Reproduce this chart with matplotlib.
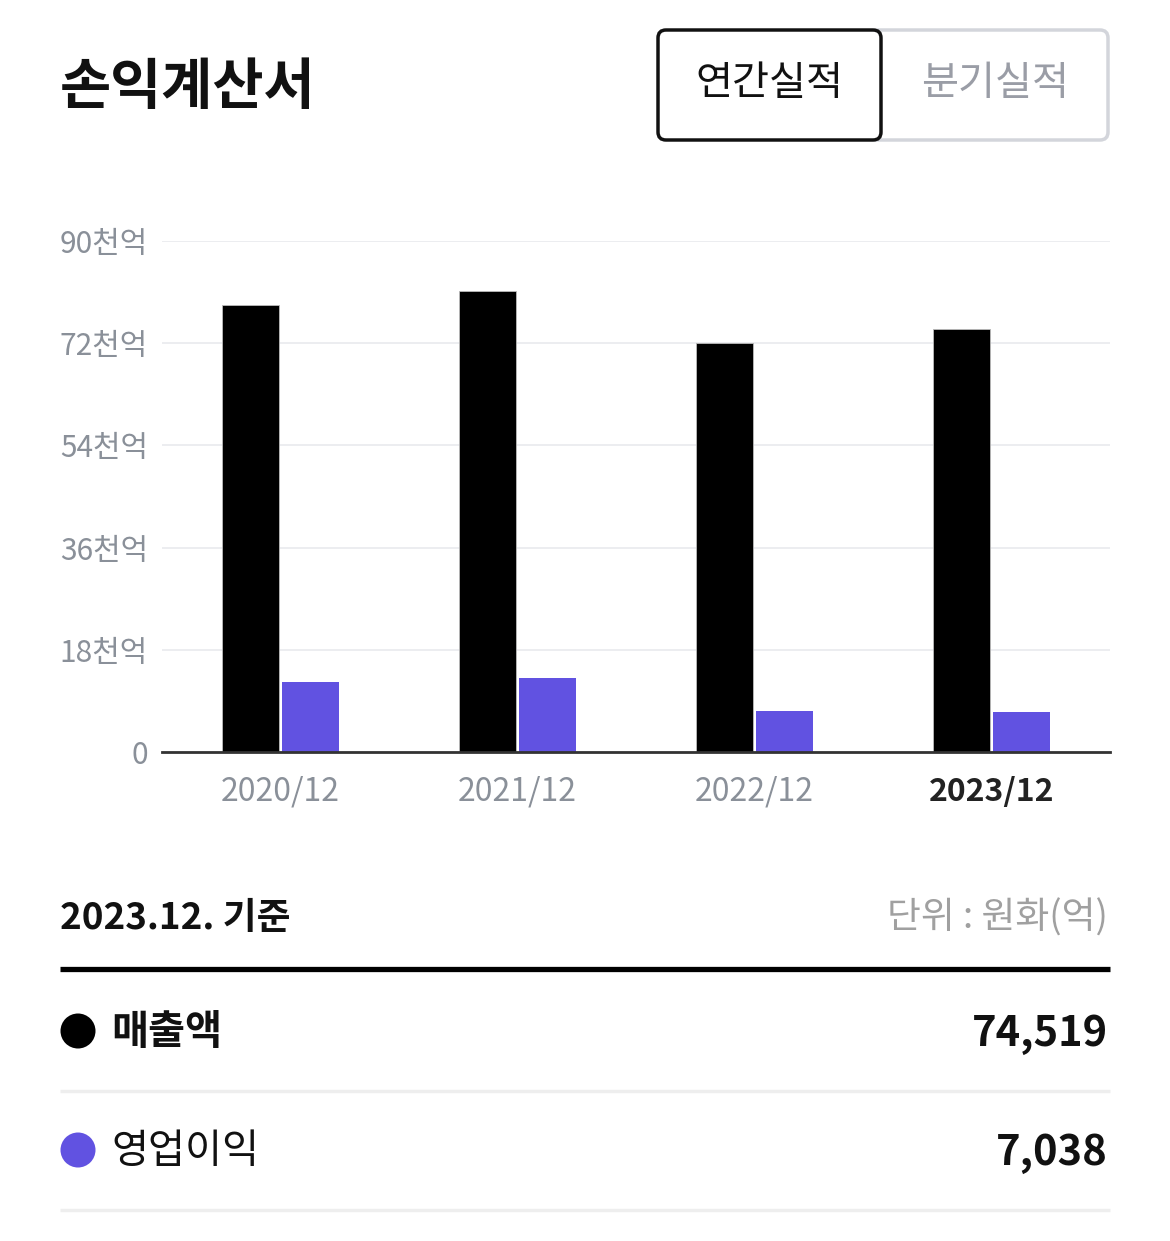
# 손익계산서 bar chart (연간실적)
import numpy as np
import matplotlib
matplotlib.use("Agg")
import matplotlib.pyplot as plt
from matplotlib.patches import FancyBboxPatch, Circle

plt.rcParams['font.family'] = ['Noto Sans CJK KR', 'DejaVu Sans']

# Data (억원)
years = ["2020/12", "2021/12", "2022/12", "2023/12"]
sales = [78700, 81200, 72100, 74519]
op_profit = [12300, 13100, 7150, 7038]

y_ticks = [0, 18000, 36000, 54000, 72000, 90000]
y_tick_labels = ["0", "18천억", "36천억", "54천억", "72천억", "90천억"]

base_date = "2023.12. 기준"
unit_text = "단위 : 원화(억)"
row_names = ["매출액", "영업이익"]
row_values = ["74,519", "7,038"]

BLACK = "#000000"
PURPLE = "#6152E1"
GRAY_TEXT = "#8A9099"
GRID = "#E9EAEE"

W, H = 1170, 1241
fig = plt.figure(figsize=(W / 100, H / 100), dpi=100)
fig.patch.set_facecolor("white")

# background axes in pixel coordinates for the page elements
bg = fig.add_axes([0, 0, 1, 1])
bg.set_xlim(0, W)
bg.set_ylim(H, 0)
bg.axis("off")

# title
bg.text(60, 88, "손익계산서", fontsize=40, fontweight="bold", color="#111111",
        ha="left", va="center")

# toggle buttons
gray_btn = FancyBboxPatch((870, 30), 238, 110, boxstyle="round,pad=0,rounding_size=8",
                          facecolor="white", edgecolor="#D3D5DB", linewidth=2.5)
bg.add_patch(gray_btn)
black_btn = FancyBboxPatch((658, 30), 223, 110, boxstyle="round,pad=0,rounding_size=8",
                           facecolor="white", edgecolor="#111111", linewidth=2.5)
bg.add_patch(black_btn)
bg.text(769, 84, "연간실적", fontsize=29, color="#111111", ha="center", va="center")
bg.text(995, 84, "분기실적", fontsize=29, color="#9A9DA6", ha="center", va="center")

# summary section
bg.text(60, 918, base_date, fontsize=26.5, fontweight="bold", color="#111111",
        ha="left", va="center")
bg.text(1108, 918, unit_text, fontsize=26.5, color="#A0A0A0", ha="right", va="center")
bg.plot([60, 1110], [969, 969], color="#000000", linewidth=3.8, solid_capstyle="butt")

row_y = [1031, 1150]
row_colors = [BLACK, PURPLE]
row_weights = ["bold", "medium"]
for i in range(2):
    bg.add_patch(Circle((78, row_y[i]), 17.5, facecolor=row_colors[i], edgecolor="none"))
    bg.text(111, row_y[i] + 2, row_names[i], fontsize=29, fontweight=row_weights[i],
            color="#111111", ha="left", va="center")
    bg.text(1108, row_y[i] + 3, row_values[i], fontsize=30, fontweight="bold",
            color="#111111", ha="right", va="center")
    bg.plot([60, 1110], [row_y[i] + 60, row_y[i] + 60], color="#EEEEEE",
            linewidth=2.5, solid_capstyle="butt")

# chart axes
ax = fig.add_axes([162 / W, (H - 752) / H, 948 / W, 511 / H])
x = np.arange(len(years))
bw = 0.24
off = 0.128
ax.bar(x - off, sales, width=bw, color=BLACK, edgecolor="#BBBBBB", linewidth=0.6, zorder=3)
ax.bar(x + off, op_profit, width=bw, color=PURPLE, zorder=3)

ax.set_xlim(-0.5, 3.5)
ax.set_ylim(0, 90000)
ax.set_yticks(y_ticks)
ax.set_yticklabels(y_tick_labels)
ax.set_xticks(x)
ax.set_xticklabels(years)
ax.tick_params(axis="both", length=0, colors=GRAY_TEXT)
ax.tick_params(axis="y", pad=10, labelsize=21.5)
ax.tick_params(axis="x", pad=17, labelsize=23)
last = ax.get_xticklabels()[-1]
last.set_color("#222222")
last.set_fontweight("bold")

ax.grid(axis="y", color=GRID, linewidth=1.2, zorder=0)
for s in ["top", "right", "left"]:
    ax.spines[s].set_visible(False)
ax.spines["bottom"].set_color("#333333")
ax.spines["bottom"].set_linewidth(2)
ax.spines["bottom"].set_zorder(4)
ax.set_facecolor("none")

fig.savefig("out.png", dpi=100, facecolor="white")
